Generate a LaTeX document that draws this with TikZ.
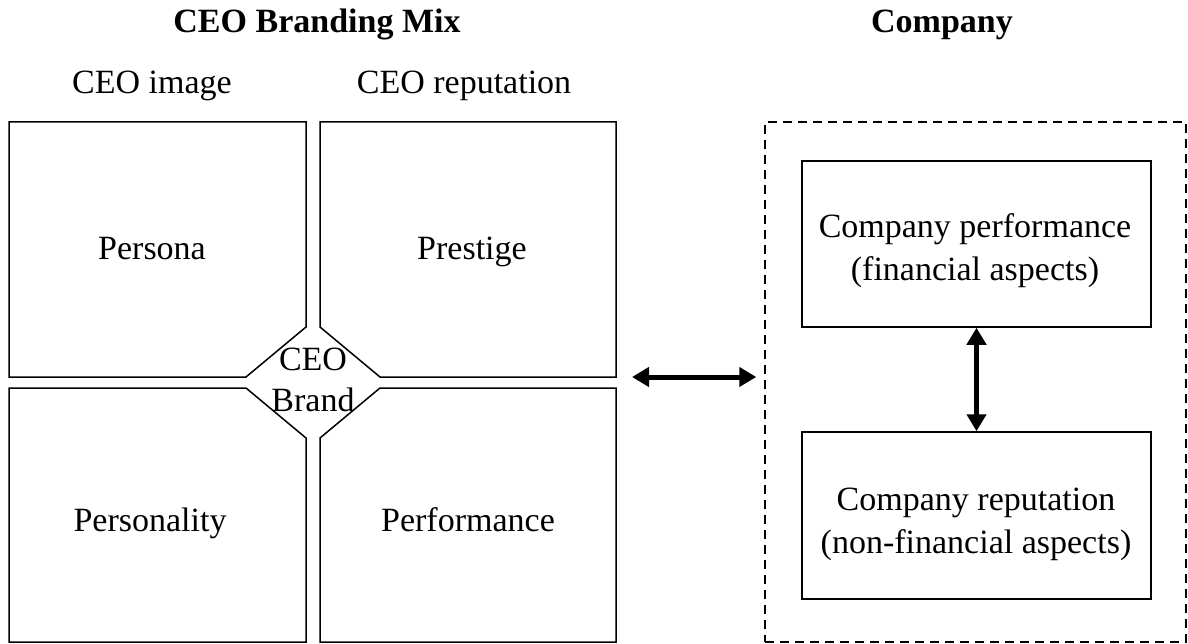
\documentclass[tikz,border=0pt]{standalone}
\usepackage{fontspec}
\setmainfont{Liberation Serif}
\usetikzlibrary{arrows.meta}
\begin{document}
\begin{tikzpicture}[x=1pt,y=-1pt,
  quad/.style={draw=black,line width=1.5pt,line join=miter},
  lbl/.style={font=\fontsize{34}{40}\selectfont,inner sep=0pt},
  ttl/.style={font=\fontsize{34}{40}\selectfont\bfseries,inner sep=0pt},
  cbox/.style={draw=black,line width=1.5pt,minimum width=349pt,minimum height=166pt,inner sep=0pt,
    font=\fontsize{34}{43}\selectfont,align=center},
  txt/.style={font=\fontsize{34}{43}\selectfont,align=center,inner sep=0pt},
  dbox/.style={draw=black,line width=1.5pt,dash pattern=on 9pt off 6pt,minimum width=421pt,minimum height=520pt,inner sep=0pt},
  dbl/.style={{Triangle[length=17pt,width=19pt]}-{Triangle[length=17pt,width=19pt]},line width=5pt}]
\useasboundingbox (0,0) rectangle (1188,644);
% quadrants
\draw[quad] (9,122) -- (306,122) -- (306,327) -- (246,377) -- (9,377) -- cycle;
\draw[quad] (320,122) -- (616,122) -- (616,377) -- (380,377) -- (320,327) -- cycle;
\draw[quad] (9,388) -- (246,388) -- (306,438) -- (306,642) -- (9,642) -- cycle;
\draw[quad] (380,388) -- (616,388) -- (616,642) -- (320,642) -- (320,438) -- cycle;
% titles
\node[ttl,anchor=base] (t1) at (317,33) {CEO Branding Mix};
\node[ttl,anchor=base] (t2) at (942,33) {Company};
\node[lbl,anchor=base] (ci) at (152,94) {CEO image};
\node[lbl,anchor=base] (cr) at (464,94) {CEO reputation};
% quadrant labels
\node[lbl,anchor=base] (pa) at (152,260) {Persona};
\node[lbl,anchor=base] (pr) at (472,260) {Prestige};
\node[lbl,anchor=base] (py) at (150,531) {Personality};
\node[lbl,anchor=base] (pf) at (468,531) {Performance};
\node[lbl,align=center,font=\fontsize{34}{41}\selectfont] (brand) at (313,380) {CEO\\Brand};
% company
\node[dbox] (company) at (975.5,382) {};
\node[cbox] (perf) at (976.5,244) {};
\node[cbox,minimum height=167pt] (rep) at (976.5,515.5) {};
\node[txt] (perft) at (975,251) {Company performance\\(financial aspects)};
\node[txt] (rept) at (976,524) {Company reputation\\(non-financial aspects)};
\coordinate (mixE) at (616,377);
\draw[dbl,shorten <=16pt,shorten >=8pt] (mixE) -- (company.west |- mixE);
\draw[dbl] (perf.south) -- (rep.north);
\end{tikzpicture}
\end{document}
